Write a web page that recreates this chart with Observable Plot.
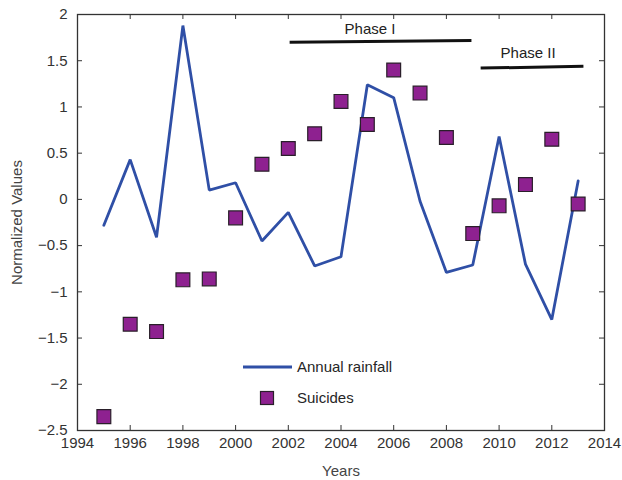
<!DOCTYPE html>
<html>
<head>
<meta charset="utf-8">
<script src="https://cdn.jsdelivr.net/npm/d3@7"></script>
<script src="https://cdn.jsdelivr.net/npm/@observablehq/plot@0.6"></script>
<style>
  html, body { margin: 0; padding: 0; background: #fff; }
  #wrap { position: relative; width: 622px; height: 480px; font-family: "Liberation Sans", Arial, sans-serif; }
  #legend { position: absolute; left: 240px; top: 351px; font-size: 15px; color: #262626; }
  .row { display: flex; align-items: center; height: 31px; }
  .sym { width: 54px; height: 20px; position: relative; }
</style>
</head>
<body>
<div id="wrap"></div>
<script>
const years = [1995,1996,1997,1998,1999,2000,2001,2002,2003,2004,2005,2006,2007,2008,2009,2010,2011,2012,2013];
const rainfall = [-0.28,0.43,-0.41,1.88,0.10,0.18,-0.45,-0.14,-0.72,-0.62,1.24,1.10,-0.02,-0.79,-0.71,0.68,-0.70,-1.30,0.20];
const suicides = [-2.35,-1.35,-1.43,-0.87,-0.86,-0.20,0.38,0.55,0.71,1.06,0.81,1.40,1.15,0.67,-0.37,-0.07,0.16,0.65,-0.05];

const xTicks = [1994,1996,1998,2000,2002,2004,2006,2008,2010,2012,2014];
const yTicks = [-2.5,-2,-1.5,-1,-0.5,0,0.5,1,1.5,2];

const phaseNames = ["Phase I", "Phase II"];
const phaseX1 = [2002.05, 2009.3];
const phaseX2 = [2008.95, 2013.2];
const phaseY1 = [1.70, 1.42];
const phaseY2 = [1.72, 1.44];
const phaseLabelX = [2005.1, 2011.1];
const phaseLabelY = [1.84, 1.585];

const seriesNames = ["Annual rainfall", "Suicides"];
const xLabel = "Years";
const yLabel = "Normalized Values";

const rain = years.map((y, i) => ({year: y, value: rainfall[i]}));
const sui = years.map((y, i) => ({year: y, value: suicides[i]}));
const phases = phaseNames.map((n, i) => ({name: n, x1: phaseX1[i], x2: phaseX2[i], y1: phaseY1[i], y2: phaseY2[i], lx: phaseLabelX[i], ly: phaseLabelY[i]}));

const axisColor = "#333333";
const W = 622, H = 480, mL = 77, mR = 18, mT = 14, mB = 50;
const pw = W - mL - mR, ph = H - mT - mB;
const tick = 5;
const fmt = d => (d < 0 ? "\u2212" + Math.abs(d) : String(d));

const chart = Plot.plot({
  width: W, height: H,
  marginLeft: mL, marginRight: mR, marginTop: mT, marginBottom: mB,
  style: {fontFamily: "'Liberation Sans', Arial, sans-serif", fontSize: "15px", color: axisColor, background: "#fff"},
  x: {domain: [1994, 2014], ticks: xTicks, tickFormat: d => String(d), tickSize: 0, tickPadding: 7, label: null},
  y: {domain: [-2.5, 2], ticks: yTicks, tickFormat: fmt, tickSize: 0, tickPadding: 10, label: null},
  marks: [
    Plot.ruleX(xTicks, {x: d => d, insetTop: ph - tick, stroke: axisColor, strokeWidth: 1}),
    Plot.ruleX(xTicks, {x: d => d, insetBottom: ph - tick, stroke: axisColor, strokeWidth: 1}),
    Plot.ruleY(yTicks, {y: d => d, insetRight: pw - tick, stroke: axisColor, strokeWidth: 1}),
    Plot.ruleY(yTicks, {y: d => d, insetLeft: pw - tick, stroke: axisColor, strokeWidth: 1}),
    Plot.frame({stroke: axisColor, strokeWidth: 1.3}),
    Plot.line(rain, {x: "year", y: "value", stroke: "#2f4fa6", strokeWidth: 2.8, strokeLinejoin: "miter"}),
    Plot.dot(sui, {x: "year", y: "value", symbol: "square", r: 7.8, fill: "#8e2190", stroke: "#2a1f2a", strokeWidth: 1.2}),
    Plot.link(phases, {x1: "x1", x2: "x2", y1: "y1", y2: "y2", stroke: "#111", strokeWidth: 3}),
    Plot.text(phases, {x: "lx", y: "ly", text: "name", fontSize: 15, fill: "#222"}),
    Plot.text([yLabel], {frameAnchor: "left", textAnchor: "middle", text: d => d, rotate: -90, dx: -60, fontSize: 15, fill: "#444"}),
    Plot.text([xLabel], {frameAnchor: "bottom", textAnchor: "middle", text: d => d, dy: 45, fontSize: 15, fill: "#444"})
  ]
});

const wrap = document.getElementById("wrap");
wrap.appendChild(chart);

const legend = document.createElement("div");
legend.id = "legend";
legend.innerHTML = `
  <div class="row"><svg class="sym" width="54" height="20"><line x1="3" x2="52" y1="10" y2="10" stroke="#2f4fa6" stroke-width="2.8"/></svg><span style="margin-left:3px">${seriesNames[0]}</span></div>
  <div class="row"><svg class="sym" width="54" height="20"><rect x="20.5" y="3.5" width="13" height="13" fill="#8e2190" stroke="#2a1f2a" stroke-width="1.2"/></svg><span style="margin-left:3px">${seriesNames[1]}</span></div>`;
wrap.appendChild(legend);
</script>
</body>
</html>
